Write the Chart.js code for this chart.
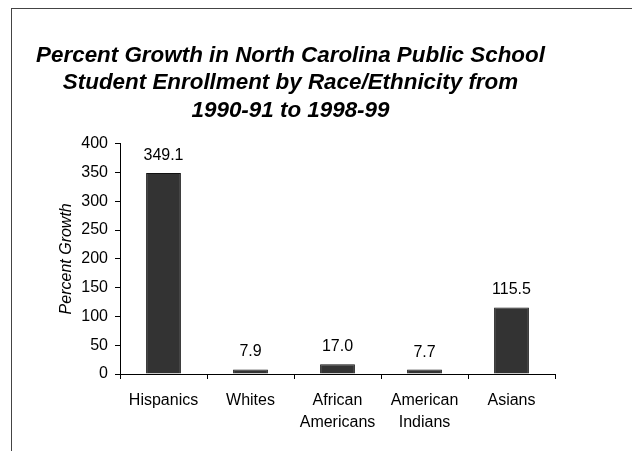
<!DOCTYPE html>
<html>
<head>
<meta charset="utf-8">
<script src="https://cdn.jsdelivr.net/npm/chart.js@4/dist/chart.umd.min.js"></script>
<style>
  html, body { margin: 0; padding: 0; background: #fff; }
  #wrap { position: relative; width: 632px; height: 451px; overflow: hidden; }
  #frame { position: absolute; left: 11px; top: 8px; width: 700px; height: 500px; border: 1px solid #444; }
  canvas { position: absolute; left: 0; top: 0; }
</style>
</head>
<body>
<div id="wrap">
  <div id="frame"></div>
  <canvas id="myChart" width="632" height="451"></canvas>
</div>
<script>
// chart data
const categories = [['Hispanics'], ['Whites'], ['African', 'Americans'], ['American', 'Indians'], ['Asians']];
const growth = [349.1, 7.9, 17.0, 7.7, 115.5];
const titleLines = [
  'Percent Growth in North Carolina Public School',
  'Student Enrollment by Race/Ethnicity from',
  '1990-91 to 1998-99'
];
const yTitle = 'Percent Growth';
const yMin = 0, yMax = 400, yStep = 50;

const FONT = "'Liberation Sans', Arial, sans-serif";

// value labels on top of the bars
const barLabels = {
  id: 'barLabels',
  afterDatasetsDraw(chart) {
    const c = chart.ctx;
    const meta = chart.getDatasetMeta(0);
    c.save();
    c.font = '16px ' + FONT;
    c.fillStyle = '#000';
    c.textAlign = 'center';
    c.textBaseline = 'alphabetic';
    meta.data.forEach((bar, i) => {
      c.fillText(growth[i].toFixed(1), bar.x, bar.y - 13);
    });
    c.restore();
  }
};

const ctx = document.getElementById('myChart');
const chart = new Chart(ctx, {
  type: 'bar',
  data: {
    labels: categories,
    datasets: [{
      data: growth,
      backgroundColor: '#333333',
      borderColor: '#111111',
      borderWidth: 1,
      barPercentage: 0.4,
      categoryPercentage: 1.0
    }]
  },
  options: {
    responsive: false,
    animation: false,
    layout: { padding: { left: 26, right: 77, top: 0, bottom: 0 } },
    plugins: {
      legend: { display: false },
      tooltip: { enabled: false },
      title: {
        display: true,
        text: titleLines,
        color: '#000',
        font: { family: FONT, size: 22.4, weight: 'bold', style: 'italic', lineHeight: 1.23 },
        padding: { top: 42, bottom: 19 }
      }
    },
    scales: {
      x: {
        grid: { display: true, drawOnChartArea: false, offset: true, tickLength: 5, color: '#000' },
        border: { display: true, color: '#000', width: 1 },
        ticks: {
          color: '#000',
          font: { family: FONT, size: 16, lineHeight: 1.35 },
          padding: 11,
          maxRotation: 0,
          autoSkip: false
        },
        afterFit(scale) { scale.height = 77; }
      },
      y: {
        min: yMin,
        max: yMax,
        grid: { display: true, drawOnChartArea: false, tickLength: 5, color: '#000' },
        border: { display: true, color: '#000', width: 1 },
        ticks: {
          stepSize: yStep,
          color: '#000',
          font: { family: FONT, size: 16 },
          padding: 7
        },
        title: {
          display: true,
          text: yTitle,
          color: '#000',
          font: { family: FONT, size: 16, style: 'italic' },
          padding: { top: 31, bottom: 0 }
        },
        afterFit(scale) { scale.width = 94; }
      }
    }
  },
  plugins: [barLabels]
});
</script>
</body>
</html>
